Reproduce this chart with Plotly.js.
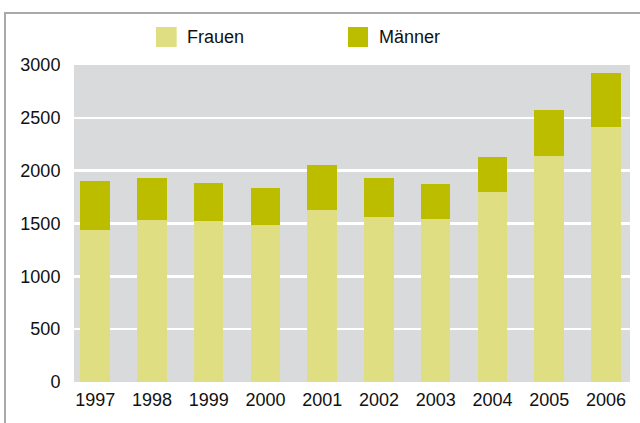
<!DOCTYPE html>
<html>
<head>
<meta charset="utf-8">
<script src="https://cdn.plot.ly/plotly-3.0.1.min.js"></script>
<style>
html, body { margin:0; padding:0; background:#fff; overflow:hidden; }
#chart { width:640px; height:423px; position:absolute; left:0; top:0; }
#frame { position:absolute; left:4px; top:12px; width:700px; height:500px; border-left:2px solid #a9a9a9; border-top:2px solid #a9a9a9; pointer-events:none; z-index:5; }
</style>
</head>
<body>
<div id="chart"></div>
<div id="frame"></div>
<script>
const years = ["1997","1998","1999","2000","2001","2002","2003","2004","2005","2006"];
const frauen = [1443, 1531, 1522, 1484, 1625, 1559, 1540, 1795, 2135, 2418];
const maenner = [456, 396, 361, 349, 428, 371, 334, 331, 437, 509];
const seriesNames = ["Frauen", "Männer"];
const colFrauen = "#dfde82";
const colMaenner = "#bdbd00";
const font = "Liberation Sans, Arial, Helvetica, sans-serif";

const traces = [
  {type:"bar", x:years, y:frauen, name:seriesNames[0], marker:{color:colFrauen}, hoverinfo:"skip"},
  {type:"bar", x:years, y:maenner, name:seriesNames[1], marker:{color:colMaenner}, hoverinfo:"skip"}
];

const layout = {
  width:640, height:423,
  margin:{l:74, r:10, t:65, b:41},
  paper_bgcolor:"rgba(0,0,0,0)",
  plot_bgcolor:"#d9dadc",
  barmode:"stack",
  bargap:0.48,
  showlegend:false,
  font:{family:font, size:18, color:"#111"},
  xaxis:{type:"category", range:[-0.374, 9.423], showgrid:false, zeroline:false, ticks:"outside", ticklen:1, tickcolor:"rgba(0,0,0,0)", tickfont:{size:18}, fixedrange:true},
  yaxis:{range:[0,3000], tickvals:[0,500,1000,1500,2000,2500,3000], showgrid:true, gridcolor:"#ffffff", gridwidth:2.5, zeroline:false, ticks:"outside", ticklen:9, tickcolor:"rgba(0,0,0,0)", tickfont:{size:18}, fixedrange:true},
  shapes:[
    {type:"rect", xref:"paper", yref:"paper", x0:0.1475, x1:0.1847, y0:1.0568, y1:1.1199, fillcolor:colFrauen, line:{width:0}},
    {type:"rect", xref:"paper", yref:"paper", x0:0.4928, x1:0.5288, y0:1.0568, y1:1.1199, fillcolor:colMaenner, line:{width:0}}
  ],
  annotations:[
    {xref:"paper", yref:"paper", x:0.1996, y:1.088, xanchor:"left", yanchor:"middle", text:seriesNames[0], showarrow:false, font:{size:18}},
    {xref:"paper", yref:"paper", x:0.545, y:1.088, xanchor:"left", yanchor:"middle", text:seriesNames[1], showarrow:false, font:{size:18}}
  ]
};
Plotly.newPlot("chart", traces, layout, {displayModeBar:false, staticPlot:true});
</script>
</body>
</html>
